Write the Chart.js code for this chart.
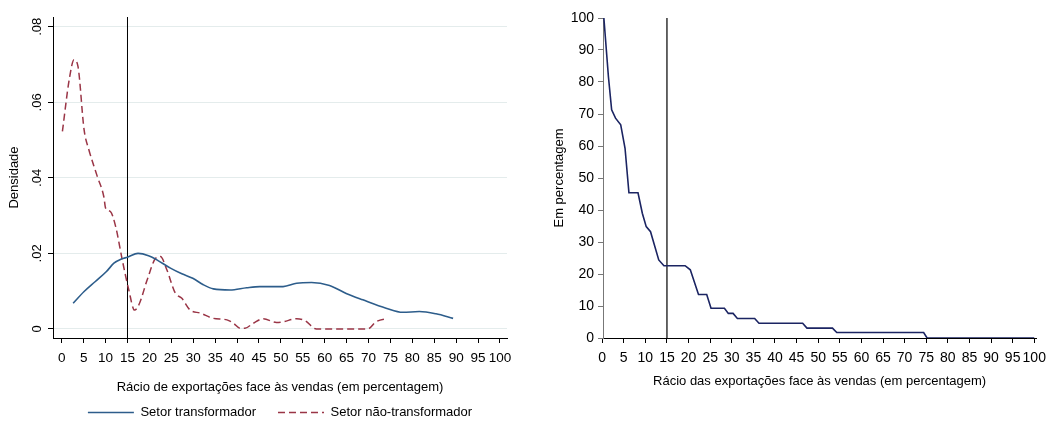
<!DOCTYPE html>
<html>
<head>
<meta charset="utf-8">
<script src="https://cdn.jsdelivr.net/npm/chart.js@4.4.1/dist/chart.umd.min.js"></script>
<style>
body { margin: 0; background: #fff; }
#left { position: absolute; left: 0; top: 0; }
#right { position: absolute; left: 540px; top: 0; }
</style>
</head>
<body>
<canvas id="left" width="520" height="429"></canvas>
<canvas id="right" width="513" height="429"></canvas>
<script>
// densidade - setor transformador
var transfX = [2.6, 5.1, 7.6, 10.2, 11.9, 13.6, 15, 17.4, 19.8, 21.7, 24.8, 27.4, 29.9, 32.3, 34.6, 38.4, 42.2, 45.2, 50.5, 53.6, 57, 61.1, 64.9, 68.7, 74, 77.8, 81.6, 85.4, 89.3];
var transfY = [0.0068, 0.0099, 0.0125, 0.0152, 0.0174, 0.0185, 0.0190, 0.0200, 0.0194, 0.0183, 0.0161, 0.0146, 0.0134, 0.0117, 0.0106, 0.0103, 0.0109, 0.0112, 0.0112, 0.0121, 0.0123, 0.0115, 0.0094, 0.0077, 0.0055, 0.0044, 0.0046, 0.0040, 0.0028];

// densidade - setor nao-transformador
var naoX = [0.15, 1.7, 2.8, 3.7, 5.1, 6.2, 8.1, 9.6, 10, 11.1, 12.3, 13.8, 15.3, 16.6, 17.6, 19.5, 21.4, 22.5, 24, 25.9, 27.4, 29.3, 31.6, 34.6, 37.7, 39.2, 40.7, 41.8, 43.7, 46, 49, 50.5, 53.6, 55.5, 58.1, 69.8, 71.7, 74.4];
var naoY = [0.0523, 0.066, 0.0713, 0.0695, 0.0527, 0.0474, 0.0404, 0.035, 0.032, 0.0311, 0.0271, 0.0183, 0.0103, 0.005, 0.0064, 0.013, 0.0187, 0.0192, 0.0156, 0.0095, 0.0081, 0.005, 0.0042, 0.0028, 0.0024, 0.0015, 0.0002, 0.0002, 0.0015, 0.0027, 0.0017, 0.0019, 0.0027, 0.0022, 0, 0, 0.0019, 0.0028];

// percentagem de empresas acima de cada racio
var shareX = [0.4, 1.45, 2.2, 3.1, 4.3, 5.3, 6.2, 8.3, 9.3, 10.2, 11.2, 13.1, 14.3, 19.2, 20.4, 22.3, 24.2, 25.2, 28.3, 29.2, 30.3, 31.3, 35.3, 36.3, 46.4, 47.4, 53.3, 54.3, 74.4, 75.2, 100];
var shareY = [100, 81.7, 71.3, 68.7, 66.6, 59.3, 45.4, 45.4, 39, 34.8, 33.2, 24.4, 22.6, 22.6, 21.3, 13.6, 13.6, 9.3, 9.3, 7.7, 7.7, 6.1, 6.1, 4.6, 4.6, 3.1, 3.1, 1.7, 1.7, 0, 0];

var xTicks = [0, 5, 10, 15, 20, 25, 30, 35, 40, 45, 50, 55, 60, 65, 70, 75, 80, 85, 90, 95, 100];
var densTicks = [0, 0.02, 0.04, 0.06, 0.08];
var densLabels = ['0', '.02', '.04', '.06', '.08'];
var pctTicks = [0, 10, 20, 30, 40, 50, 60, 70, 80, 90, 100];
var limiar = 15;

var seriesNames = ['Setor transformador', 'Setor não-transformador'];
var leftTitleX = 'Rácio de exportações face às vendas (em percentagem)';
var rightTitleX = 'Rácio das exportações face às vendas (em percentagem)';

Chart.defaults.font.family = '"Liberation Sans", Arial, sans-serif';
Chart.defaults.color = '#000';

function pts(xs, ys) {
    var out = [];
    for (var i = 0; i < xs.length; i++) {
        out.push({x: xs[i], y: ys[i]});
    }
    return out;
}

var dMin = -0.0024, dMax = 0.0826;

new Chart(document.getElementById('left'), {
    type: 'line',
    data: {
        datasets: [
            {
                label: seriesNames[0],
                data: pts(transfX, transfY),
                borderColor: '#2d5d8b',
                borderWidth: 1.6,
                pointRadius: 0,
                cubicInterpolationMode: 'monotone'
            },
            {
                label: seriesNames[1],
                data: pts(naoX, naoY),
                borderColor: '#9a3546',
                borderWidth: 1.5,
                borderDash: [7, 4],
                pointRadius: 0,
                cubicInterpolationMode: 'monotone'
            },
            {
                label: '',
                data: [{x: limiar, y: dMin}, {x: limiar, y: dMax}],
                borderColor: '#000',
                borderWidth: 1,
                pointRadius: 0
            }
        ]
    },
    options: {
        responsive: false,
        animation: false,
        layout: {padding: {top: 17, right: 13, bottom: 0, left: 0}},
        plugins: {
            tooltip: {enabled: false},
            legend: {
                position: 'bottom',
                fullSize: false,
                labels: {
                    usePointStyle: true,
                    pointStyle: 'line',
                    pointStyleWidth: 46,
                    font: {size: 13},
                    padding: 22,
                    generateLabels: function (chart) {
                        var items = Chart.defaults.plugins.legend.labels.generateLabels(chart);
                        items.forEach(function (it) {
                            var ds = chart.data.datasets[it.datasetIndex];
                            it.lineDash = ds.borderDash || [];
                            it.lineWidth = 1.5;
                        });
                        return items.filter(function (it) { return it.text !== ''; });
                    }
                }
            }
        },
        scales: {
            x: {
                type: 'linear',
                min: -2.0,
                max: 101.6,
                afterBuildTicks: function (s) { s.ticks = xTicks.map(function (v) { return {value: v}; }); },
                afterFit: function (s) { s.height = 46; },
                grid: {drawOnChartArea: false, tickLength: 5, color: '#000'},
                border: {color: '#000'},
                ticks: {font: {size: 13.5, family: '"Liberation Sans Narrow", "Liberation Sans", Arial'}, padding: 7, maxRotation: 0, autoSkip: false},
                title: {display: true, text: leftTitleX, font: {size: 13}, padding: {top: 0, bottom: -11}}
            },
            y: {
                min: dMin,
                max: dMax,
                afterBuildTicks: function (s) { s.ticks = densTicks.map(function (v) { return {value: v}; }); },
                afterFit: function (s) { s.width = 53; },
                grid: {color: '#e4ecec', tickColor: '#000', tickLength: 5},
                border: {color: '#000'},
                ticks: {
                    callback: function (v, i) { return densLabels[i]; },
                    minRotation: 90,
                    maxRotation: 90,
                    crossAlign: 'center',
                    padding: 2,
                    font: {size: 13}
                },
                title: {display: true, text: 'Densidade', font: {size: 13}, padding: {top: 7, bottom: 0}}
            }
        }
    }
});

new Chart(document.getElementById('right'), {
    type: 'line',
    data: {
        datasets: [
            {
                label: 'Em percentagem',
                data: pts(shareX, shareY),
                borderColor: '#1b2462',
                borderWidth: 1.6,
                pointRadius: 0
            },
            {
                label: '',
                data: [{x: limiar, y: 0}, {x: limiar, y: 100}],
                borderColor: '#000',
                borderWidth: 1.2,
                pointRadius: 0
            }
        ]
    },
    options: {
        responsive: false,
        animation: false,
        layout: {padding: {top: 18, right: 13, bottom: 37, left: 0}},
        plugins: {
            tooltip: {enabled: false},
            legend: {display: false}
        },
        scales: {
            x: {
                type: 'linear',
                min: 0.2,
                max: 100.45,
                afterBuildTicks: function (s) { s.ticks = xTicks.map(function (v) { return {value: v}; }); },
                afterFit: function (s) { s.height = 54; },
                grid: {drawOnChartArea: false, tickLength: 5, color: '#000'},
                border: {color: '#000'},
                ticks: {font: {size: 14}, padding: 7, maxRotation: 0, autoSkip: false},
                title: {display: true, text: rightTitleX, font: {size: 13}, padding: {top: 0, bottom: 3}}
            },
            y: {
                min: 0,
                max: 100,
                afterBuildTicks: function (s) { s.ticks = pctTicks.map(function (v) { return {value: v}; }); },
                afterFit: function (s) { s.width = 63; },
                grid: {drawOnChartArea: false, tickLength: 5, color: '#777'},
                border: {color: '#777'},
                ticks: {font: {size: 14}, padding: 4},
                title: {display: true, text: 'Em percentagem', font: {size: 13}, padding: {top: 12, bottom: 0}}
            }
        }
    }
});
</script>
</body>
</html>
